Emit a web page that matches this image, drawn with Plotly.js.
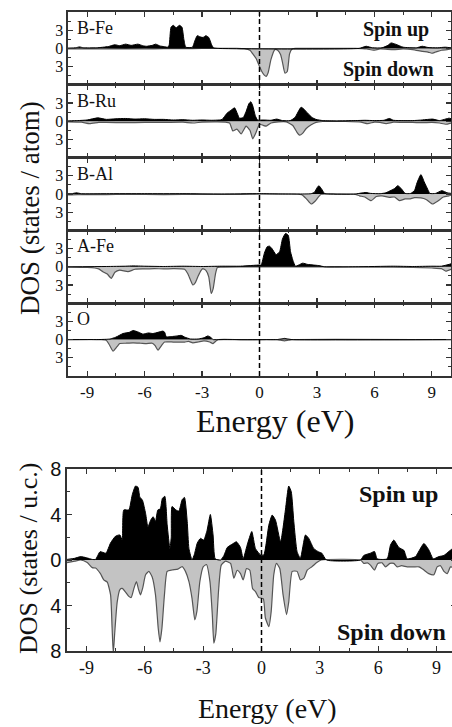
<!DOCTYPE html>
<html><head><meta charset="utf-8">
<script src="https://cdn.plot.ly/plotly-3.0.1.min.js"></script>
<style>html,body{margin:0;padding:0;overflow:hidden;background:#fff;width:452px;height:727px}</style>
</head><body><div id="chart" style="width:460px;height:727px"></div>
<script>
// ---------- data (energies in eV, DOS; spin down stored as negative) ----------
const panelNames = ['B-Fe','B-Ru','B-Al','A-Fe','O'];

const bFeUpE = [-10,-9.6,-9.4,-9.2,-8.5,-7.9,-7.56,-7.3,-6.99,-6.7,-6.35,-6.1,-5.9,-5.6,-5.42,-5.2,-5.0,-4.8,-4.72,-4.62,-4.5,-4.35,-4.18,-4.05,-3.95,-3.85,-3.5,-3.38,-3.25,-3.1,-2.95,-2.8,-2.65,-2.5,-2.4,-2.2,5.2,5.57,5.9,6.4,6.7,6.87,7.1,7.5,8.2,8.5,8.8,9.3,9.7,10];
const bFeUp  = [0.05,0.1,0.25,0.1,0.1,0.3,0.6,0.45,0.7,0.5,0.7,0.45,0.35,0.5,0.7,0.4,0.3,0.2,0.5,3.5,3.8,3.4,3.8,3.5,1.5,0.2,0.2,1.2,2.1,1.9,1.8,2.1,1.8,0.6,0.1,0,0,0.35,0.1,0.1,0.5,0.9,0.7,0.2,0.1,0.35,0.15,0.1,0.2,0.1];
const bFeDnE = [-10,-9,-8,-7,-6,-5,-4,-3,-2,-1.2,-0.8,-0.5,-0.35,-0.17,0,0.12,0.25,0.35,0.45,0.6,0.8,0.95,1.1,1.2,1.33,1.45,1.57,1.7,1.9,3,4,5,5.6,5.95,6.3,7,7.5,8,8.5,8.8,9.0,9.2,9.5,9.8,10];
const bFeDn  = [-0.1,-0.1,-0.1,-0.05,-0.1,-0.05,-0.05,0,0,0,-0.05,-0.3,-0.9,-1.7,-3.0,-3.8,-4.4,-4.6,-4.0,-1.8,-0.2,-0.3,-1.0,-2.3,-4.1,-3.8,-0.9,-0.1,0,0,0,0,-0.1,-0.3,-0.1,-0.2,-0.1,-0.2,-0.5,-0.6,-0.8,-0.6,-0.3,-0.2,-0.1];

const bRuUpE = [-10,-9.5,-9,-8.44,-8,-7.5,-7,-6.5,-6,-5.5,-5,-4.5,-4,-3.5,-3,-2.5,-2.1,-1.95,-1.7,-1.45,-1.3,-1.15,-1.05,-0.85,-0.7,-0.55,-0.45,-0.35,-0.22,-0.1,0.2,0.6,0.9,1.2,1.6,1.85,2.17,2.35,2.52,2.75,2.95,3.3,4,5,5.5,6,6.5,6.78,7.0,7.5,8,8.5,9.04,9.4,9.9,10];
const bRuUp  = [0.05,0.1,0.2,0.55,0.3,0.4,0.45,0.35,0.4,0.3,0.3,0.2,0.25,0.15,0.2,0.15,0.2,0.3,1.3,1.9,2.2,1.2,0.5,0.6,1.6,2.9,3.2,2.5,0.9,0.2,0.2,0.15,0.35,0.1,0.1,0.6,2.3,1.9,1.3,0.6,0.3,0.1,0.05,0.1,0.15,0.1,0.15,0.45,0.15,0.1,0.1,0.2,0.35,0.1,0.5,0.4];
const bRuDnE = [-10,-9.3,-8.87,-8.4,-8,-7,-6,-5,-4,-3.48,-3,-2.2,-1.8,-1.56,-1.39,-1.18,-0.96,-0.7,-0.5,-0.35,-0.2,0,0.2,0.35,0.6,1.0,1.4,1.74,1.95,2.09,2.25,2.44,2.7,2.95,3.3,4.5,5.3,5.65,6.0,6.3,6.61,7,7.5,8,8.5,9,9.4,9.73,10];
const bRuDn  = [-0.1,-0.15,-0.4,-0.2,-0.2,-0.25,-0.2,-0.2,-0.15,-0.3,-0.15,-0.1,-0.15,-0.3,-1.6,-1.3,-2.1,-0.8,-1.5,-2.9,-2.0,-0.5,-0.7,-0.8,-0.3,-0.1,-0.1,-0.7,-1.8,-2.3,-2.0,-1.2,-0.6,-0.2,-0.05,-0.05,-0.15,-0.4,-0.15,-0.2,-0.4,-0.15,-0.2,-0.2,-0.25,-0.2,-0.3,-0.5,-0.3];

const bAlUpE = [-10,-9.8,-9.56,-9.3,-8,-6,-4,-2,0,1,2,2.7,2.87,3.0,3.1,3.25,3.39,3.6,5,5.3,5.57,5.8,6.3,6.6,6.87,7.05,7.22,7.4,7.6,7.9,8.1,8.22,8.43,8.6,8.75,8.9,9.2,9.52,9.8,10];
const bAlUp  = [0,0.05,0.2,0.05,0.05,0.05,0.05,0,0.05,0,0,0.05,0.3,1.0,1.37,0.8,0.1,0,0,0.15,0.25,0.1,0.05,0.2,0.6,0.9,1.37,0.9,0.1,0.1,0.6,1.8,3.2,2.0,1.0,0.1,0.1,0.55,0.2,0.1];
const bAlDnE = [-10,-9.5,-8,-7,-5,-3,-1,0,1.5,2.2,2.45,2.7,2.9,3.05,3.22,4,5,5.22,5.5,5.83,6.1,6.4,6.78,7.05,7.31,7.6,7.83,8.1,8.43,8.7,9.04,9.3,9.6,9.9,10];
const bAlDn  = [-0.15,-0.1,-0.1,-0.05,-0.1,-0.05,-0.05,0,0,-0.1,-0.8,-1.65,-1.2,-0.6,-0.05,0,-0.05,-0.3,-0.5,-1.1,-0.4,-0.3,-0.55,-0.5,-1.1,-0.8,-0.8,-0.6,-0.65,-0.9,-1.65,-1.2,-0.5,-0.3,-0.2];

const aFeUpE = [-10,-8,-7,-6.6,-6,-5,-4,-3,-2,-1,-0.5,0,0.09,0.25,0.4,0.52,0.65,0.87,1.05,1.2,1.36,1.5,1.62,1.74,1.88,2.05,2.26,2.5,2.8,3.1,3.4,5,7,8,9,9.5,9.9,10];
const aFeUp  = [0,0.05,0.1,0.15,0.1,0.05,0.1,0.05,0.1,0.1,0.2,0.3,0.3,2.2,3.3,3.4,3.0,2.0,2.5,4.6,5.5,5.2,2.5,1.1,0.1,0.3,0.6,0.4,0.3,0.2,0,0,0.1,0.05,0.1,0.1,0.4,0.5];
const aFeDnE = [-10,-9,-8.6,-8.4,-8.18,-7.95,-7.74,-7.55,-7.3,-6.87,-6.5,-6,-5.5,-5,-4.5,-3.91,-3.75,-3.6,-3.48,-3.35,-3.22,-3.05,-2.96,-2.8,-2.65,-2.52,-2.42,-2.3,-2.2,-2,-1,0,1,2,4,6,8,9,9.5,9.73,10];
const aFeDn  = [-0.05,-0.1,-0.2,-0.35,-0.8,-1.2,-1.9,-0.9,-0.55,-0.8,-0.4,-0.35,-0.3,-0.35,-0.3,-0.4,-1.1,-2.2,-3.0,-2.6,-1.65,-0.6,-0.3,-0.6,-1.65,-4.4,-3.6,-1.2,-0.1,-0.05,0,0,0,0,0,-0.05,-0.1,-0.2,-0.3,-0.7,-0.4];

const oUpE = [-10,-8.5,-8,-7.8,-7.5,-7.13,-6.8,-6.6,-6.3,-6.09,-5.8,-5.57,-5.3,-5.04,-4.95,-4.87,-4.6,-4.3,-4.09,-3.9,-3.6,-3.2,-2.9,-2.7,-2.55,-2.43,-2.2,0.9,1.1,1.3,1.5,1.7,10];
const oUp  = [0,0,0.05,0.1,0.4,1.0,1.2,1.5,1.2,0.9,1.1,1.0,1.2,1.4,1.2,0.45,0.5,0.6,0.7,0.4,0.1,0.1,0.3,0.6,0.4,0,0,0,0.1,0.2,0.1,0,0];
const oDnE = [-10,-8.3,-8.0,-7.85,-7.65,-7.45,-7.3,-7,-6.6,-6.2,-5.9,-5.6,-5.45,-5.3,-5.12,-4.96,-4.5,-3.91,-3.7,-3.48,-3.2,-2.9,-2.6,-2.43,-2.3,-2.17,-1,0.9,1.1,1.3,1.5,1.7,10];
const oDn  = [0,0,-0.1,-0.8,-1.9,-1.2,-0.65,-0.6,-0.55,-0.6,-0.65,-0.6,-1.0,-1.75,-1.0,-0.4,-0.4,-0.4,-0.3,-0.55,-0.4,-0.2,-0.4,-0.65,-0.3,0,0,0,-0.1,-0.2,-0.1,0,0];

const totUpE = [-10,-9.6,-9.3,-9.0,-8.7,-8.53,-8.3,-8.0,-7.76,-7.5,-7.28,-7.16,-7.08,-6.82,-6.65,-6.48,-6.35,-6.25,-6.13,-5.96,-5.84,-5.7,-5.57,-5.45,-5.33,-5.2,-5.1,-4.97,-4.85,-4.71,-4.64,-4.6,-4.4,-4.25,-4.08,-3.96,-3.82,-3.73,-3.57,-3.45,-3.3,-3.14,-2.97,-2.8,-2.63,-2.49,-2.38,-2.1,-1.93,-1.76,-1.5,-1.29,-1.08,-0.94,-0.74,-0.5,-0.31,-0.05,0.12,0.38,0.55,0.72,0.98,1.23,1.4,1.53,1.66,1.83,2.0,2.26,2.43,2.69,2.95,3.1,3.34,5.09,5.26,5.6,5.81,5.95,6.46,6.63,6.8,7.06,7.32,7.49,7.92,8.1,8.35,8.6,8.83,9.12,9.38,9.63,9.82,10];
const totUp  = [0.05,0.15,0.3,0.2,0.05,0.05,0.73,0.6,1.5,2.1,2.2,1.75,4.4,4.4,5.7,6.5,6.4,5.5,5.3,4.1,2.9,3.5,3.8,3.4,4.4,4.5,5.4,5.6,3.1,1.0,2.0,4.7,4.4,4.3,5.3,5.5,3.4,1.0,0,0.5,1.5,1.9,1.75,2.6,4.0,2.2,0.1,0,0.4,1.1,1.4,1.6,1.1,0.1,1.3,2.5,1.0,0.45,0.45,3.1,3.95,3.5,1.6,4.4,6.5,6.0,3.4,0.73,0.15,2.2,1.9,1.0,0.7,0.6,0,0,0.4,0.6,0.75,0.1,0.1,1.3,1.75,1.1,0.85,0.1,0.3,0.8,1.45,0.9,0.1,0.3,0.4,0.75,1.0,1.2];
const totDnE = [-10,-9.6,-9.3,-8.96,-8.7,-8.53,-8.28,-8.11,-7.93,-7.76,-7.68,-7.62,-7.55,-7.42,-7.28,-7.16,-7.0,-6.82,-6.7,-6.56,-6.43,-6.32,-6.22,-6.1,-5.96,-5.79,-5.62,-5.45,-5.31,-5.22,-5.12,-4.99,-4.85,-4.6,-4.3,-4.08,-3.91,-3.73,-3.57,-3.43,-3.32,-3.17,-3.0,-2.83,-2.65,-2.53,-2.45,-2.35,-2.2,-2.07,-1.85,-1.59,-1.42,-1.25,-1.08,-0.94,-0.77,-0.6,-0.46,-0.3,-0.14,0.09,0.2,0.38,0.5,0.63,0.77,0.94,1.11,1.29,1.4,1.58,1.83,2.0,2.18,2.35,2.6,2.86,3.07,5.09,5.26,5.45,5.6,5.81,5.98,6.2,6.38,6.6,6.8,6.98,7.2,7.49,7.83,8.1,8.35,8.6,8.86,9.03,9.2,9.38,9.55,9.72,10];
const totDn  = [-0.23,-0.1,0,-0.23,-0.67,-0.7,-1.2,-1.75,-1.95,-3.07,-6.0,-8.2,-6.5,-3.7,-2.6,-2.5,-2.8,-3.2,-3.3,-2.5,-1.9,-2.6,-3.07,-2.4,-1.3,-1.0,-1.5,-3.07,-6.0,-7.2,-6.0,-3.07,-1.0,-0.88,-0.8,-0.58,-1.0,-1.9,-3.4,-5.26,-4.5,-1.9,-0.6,-0.4,-1.9,-4.8,-7.3,-6.5,-2.5,-0.45,-0.1,-0.3,-1.6,-0.9,-1.2,-1.75,-0.75,-0.9,-2.5,-2.8,-3.3,-3.4,-5.1,-5.85,-4.5,-1.3,-0.3,-0.75,-3.07,-4.8,-3.7,-1.0,-1.0,-1.75,-1.6,-0.9,-0.58,-0.2,0,0,-0.3,-0.25,-0.45,-0.88,-0.3,-0.25,-0.6,-0.3,-0.3,-0.6,-0.5,-0.6,-0.6,-0.6,-0.88,-1.2,-1.3,-0.6,-0.5,-1.0,-1.2,-0.6,-0.8];

const xTickVals = [-9,-6,-3,0,3,6,9];
const xTickText = ['-9','-6','-3','0','3','6','9'];
const yTopTickVals = [-3,0,3];
const yTopTickText = ['3','0','3'];
const yBotTickVals = [-8,-4,0,4,8];
const yBotTickText = ['8','4','0','4','8'];

// ---------- layout helpers ----------
const W = 460, H = 727;
const fx = px => px / W;
const fy = py => 1 - py / H;
const SERIF = 'Liberation Serif, Times New Roman, serif';
const SANS = 'Liberation Sans, Arial, sans-serif';
const TXT = '#111';
const AX = '#333';

const ups = [[bFeUpE,bFeUp],[bRuUpE,bRuUp],[bAlUpE,bAlUp],[aFeUpE,aFeUp],[oUpE,oUp],[totUpE,totUp]];
const dns = [[bFeDnE,bFeDn],[bRuDnE,bRuDn],[bAlDnE,bAlDn],[aFeDnE,aFeDn],[oDnE,oDn],[totDnE,totDn]];

const traces = [];
for (let i = 0; i < 6; i++) {
  const s = i === 0 ? '' : String(i + 1);
  traces.push({x: dns[i][0], y: dns[i][1], xaxis: 'x' + s, yaxis: 'y' + s, type: 'scatter', mode: 'lines',
    fill: 'tozeroy', fillcolor: '#c3c3c3', line: {color: '#555', width: 1.2, shape: 'spline', smoothing: 0.5}, hoverinfo: 'skip'});
  traces.push({x: ups[i][0], y: ups[i][1], xaxis: 'x' + s, yaxis: 'y' + s, type: 'scatter', mode: 'lines',
    fill: 'tozeroy', fillcolor: '#000', line: {color: '#000', width: 1, shape: 'spline', smoothing: 0.5}, hoverinfo: 'skip'});
}

const layout = {
  width: W, height: H, margin: {l: 0, r: 0, t: 0, b: 0}, showlegend: false,
  paper_bgcolor: '#fff', plot_bgcolor: '#fff', annotations: [], shapes: []
};

const topBounds = [12, 84.8, 157.6, 230.4, 303.2, 376];
const commonAx = {showline: true, linecolor: AX, linewidth: 1.6, mirror: 'ticks', ticks: 'inside', ticklen: 5,
  tickwidth: 1.2, tickcolor: AX, showgrid: false, zeroline: false, fixedrange: true};

for (let i = 0; i < 5; i++) {
  const s = i === 0 ? '' : String(i + 1);
  layout['xaxis' + s] = Object.assign({}, commonAx, {
    domain: [fx(68), fx(451)], range: [-10, 10], anchor: 'y' + s,
    tickmode: 'array', tickvals: xTickVals, ticktext: xTickText,
    showticklabels: i === 4, tickfont: {family: SERIF, size: 17, color: TXT},
    minor: {tickmode: 'linear', tick0: 0, dtick: 1.5, ticks: 'inside', ticklen: 3, tickcolor: AX, tickwidth: 1}
  });
  layout['yaxis' + s] = Object.assign({}, commonAx, {
    domain: [fy(topBounds[i + 1]), fy(topBounds[i])], range: [-6, 6], anchor: 'x' + s,
    tickmode: 'array', tickvals: yTopTickVals, ticktext: yTopTickText,
    tickfont: {family: SERIF, size: 16, color: TXT},
    minor: {tickmode: 'linear', tick0: 0, dtick: 1.5, ticks: 'inside', ticklen: 3, tickcolor: AX, tickwidth: 1}
  });
  layout.annotations.push({text: panelNames[i], xref: 'x' + s + ' domain', yref: 'y' + s + ' domain',
    x: 0.018, y: 0.78, xanchor: 'left', yanchor: 'middle', showarrow: false,
    font: {family: SERIF, size: 18, color: TXT}});
}

layout.xaxis6 = Object.assign({}, commonAx, {
  domain: [fx(67), fx(456)], range: [-10, 10], anchor: 'y6',
  tickmode: 'array', tickvals: xTickVals, ticktext: xTickText,
  tickfont: {family: SERIF, size: 18, color: TXT},
  minor: {tickmode: 'linear', tick0: 0, dtick: 1.5, ticks: 'inside', ticklen: 3, tickcolor: AX, tickwidth: 1}
});
layout.yaxis6 = Object.assign({}, commonAx, {
  domain: [fy(651), fy(469)], range: [-8, 8], anchor: 'x6',
  tickmode: 'array', tickvals: yBotTickVals, ticktext: yBotTickText,
  tickfont: {family: SANS, size: 20, color: TXT},
  minor: {tickmode: 'linear', tick0: 0, dtick: 2, ticks: 'inside', ticklen: 3, tickcolor: AX, tickwidth: 1}
});

// Fermi level dashed lines
layout.shapes.push({type: 'line', xref: 'x5', yref: 'paper', x0: 0, x1: 0, y0: fy(376), y1: fy(12),
  line: {color: '#000', width: 1.5, dash: '5px,3px'}});
layout.shapes.push({type: 'line', xref: 'x6', yref: 'y6 domain', x0: 0, x1: 0, y0: 0, y1: 1,
  line: {color: '#000', width: 1.5, dash: '5px,3px'}});

// Texts
const A = layout.annotations;
A.push({text: '<b>Spin up</b>', xref: 'paper', yref: 'paper', x: fx(431), y: fy(29.5), xanchor: 'right', yanchor: 'middle',
  showarrow: false, font: {family: SERIF, size: 20, color: TXT}});
A.push({text: '<b>Spin down</b>', xref: 'paper', yref: 'paper', x: fx(436), y: fy(69), xanchor: 'right', yanchor: 'middle',
  showarrow: false, font: {family: SERIF, size: 20, color: TXT}});
A.push({text: 'DOS (states / atom)', xref: 'paper', yref: 'paper', x: fx(30), y: fy(208), xanchor: 'center', yanchor: 'middle',
  textangle: -90, showarrow: false, font: {family: SERIF, size: 27, color: TXT}});
A.push({text: 'Energy (eV)', xref: 'paper', yref: 'paper', x: fx(274.5), y: fy(421), xanchor: 'center', yanchor: 'middle',
  showarrow: false, font: {family: SERIF, size: 32, color: TXT}});
A.push({text: '<b>Spin up</b>', xref: 'paper', yref: 'paper', x: fx(440), y: fy(494), xanchor: 'right', yanchor: 'middle',
  showarrow: false, font: {family: SERIF, size: 24, color: TXT}});
A.push({text: '<b>Spin down</b>', xref: 'paper', yref: 'paper', x: fx(335), y: fy(632), xanchor: 'left', yanchor: 'middle',
  showarrow: false, font: {family: SERIF, size: 24, color: TXT}});
A.push({text: 'DOS (states / u.c.)', xref: 'paper', yref: 'paper', x: fx(28), y: fy(559), xanchor: 'center', yanchor: 'middle',
  textangle: -90, showarrow: false, font: {family: SERIF, size: 26, color: TXT}});
A.push({text: 'Energy (eV)', xref: 'paper', yref: 'paper', x: fx(267), y: fy(708), xanchor: 'center', yanchor: 'middle',
  showarrow: false, font: {family: SERIF, size: 28, color: TXT}});

Plotly.newPlot('chart', traces, layout, {staticPlot: true, displayModeBar: false});
</script></body></html>
